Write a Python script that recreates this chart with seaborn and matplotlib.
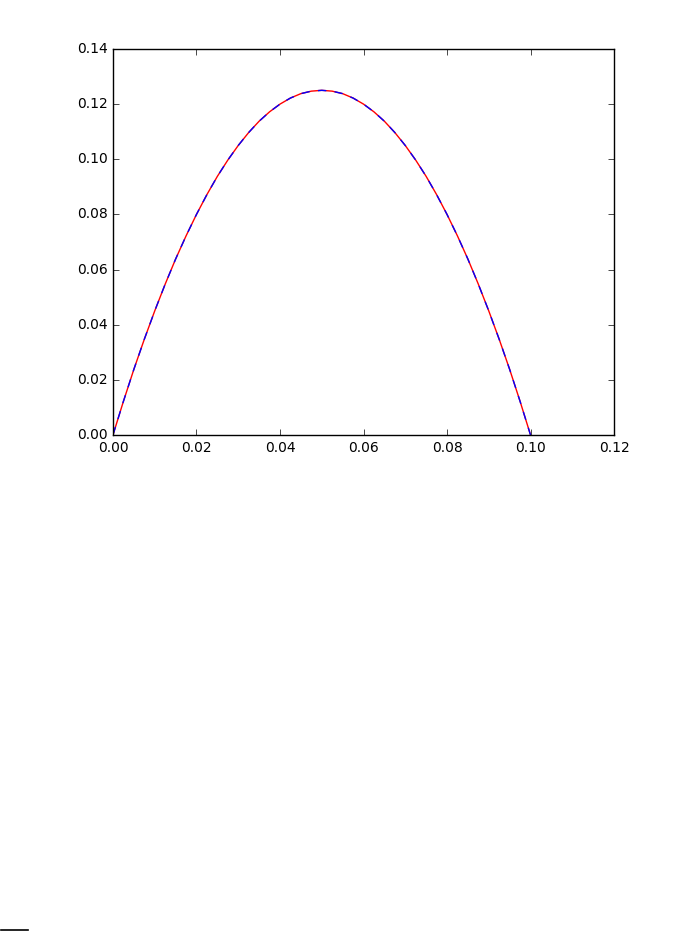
import matplotlib
matplotlib.use('Agg')
import matplotlib.pyplot as plt
from matplotlib.lines import Line2D
import seaborn as sns
import pandas as pd

# values (x step 0.0025)
x_vals = [0.0, 0.0025, 0.005, 0.0075, 0.01, 0.0125, 0.015, 0.0175, 0.02, 0.0225,
          0.025, 0.0275, 0.03, 0.0325, 0.035, 0.0375, 0.04, 0.0425, 0.045, 0.0475,
          0.05, 0.0525, 0.055, 0.0575, 0.06, 0.0625, 0.065, 0.0675, 0.07, 0.0725,
          0.075, 0.0775, 0.08, 0.0825, 0.085, 0.0875, 0.09, 0.0925, 0.095, 0.0975, 0.1]
y_vals = [0.0, 0.0122, 0.0238, 0.0347, 0.045, 0.0547, 0.0638, 0.0722, 0.08, 0.0872,
          0.0938, 0.0997, 0.105, 0.1097, 0.1138, 0.1172, 0.12, 0.1222, 0.1238, 0.1247,
          0.125, 0.1247, 0.1238, 0.1222, 0.12, 0.1172, 0.1138, 0.1097, 0.105, 0.0997,
          0.0938, 0.0872, 0.08, 0.0722, 0.0638, 0.0547, 0.045, 0.0347, 0.0238, 0.0122, 0.0]

x_ticks = [0.00, 0.02, 0.04, 0.06, 0.08, 0.10, 0.12]
y_ticks = [0.00, 0.02, 0.04, 0.06, 0.08, 0.10, 0.12, 0.14]

plt.style.use('classic')
df = pd.DataFrame({'x': x_vals, 'y': y_vals})

fig = plt.figure(figsize=(6.79, 9.31), dpi=100, facecolor='white')
ax = fig.add_axes([0.1664, 0.5328, 0.7379, 0.4146])

sns.lineplot(data=df, x='x', y='y', color='red', linewidth=1.0, ax=ax, sort=False)
sns.lineplot(data=df, x='x', y='y', color='blue', linewidth=1.0, ax=ax, sort=False,
             linestyle='--', dashes=False)

ax.set_xlim(0, 0.12)
ax.set_ylim(0, 0.14)
ax.set_xticks(x_ticks)
ax.set_yticks(y_ticks)
ax.set_xticklabels([f'{t:.2f}' for t in x_ticks])
ax.set_yticklabels([f'{t:.2f}' for t in y_ticks])
ax.set_xlabel('')
ax.set_ylabel('')
ax.tick_params(direction='in', top=True, right=True, labelsize=10)

# small stray line at the bottom-left edge of the page
fig.add_artist(Line2D([0.0015, 0.041], [0.0015, 0.0015], color='black', linewidth=1.2))

fig.savefig('out.png', dpi=100, facecolor='white')
